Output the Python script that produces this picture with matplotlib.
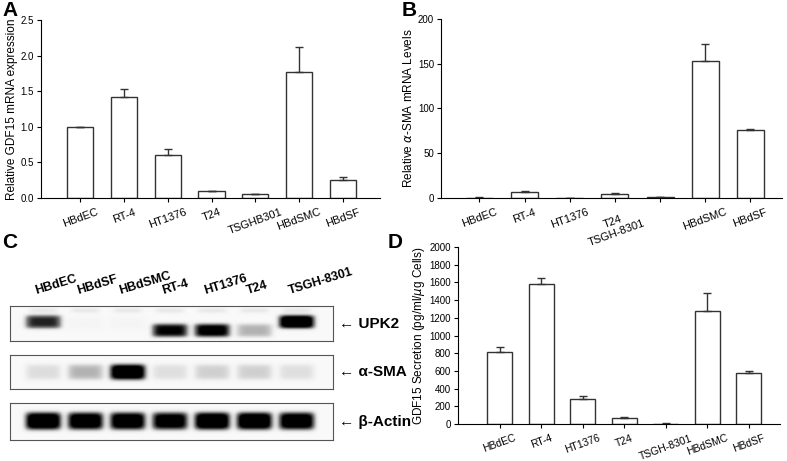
import matplotlib.pyplot as plt
import numpy as np

plt.rcParams['font.family'] = 'Liberation Sans'

# panel A: GDF15 mRNA
a_labels = ['HBdEC', 'RT-4', 'HT1376', 'T24', 'TSGHB301', 'HBdSMC', 'HBdSF']
a_vals = [1.0, 1.42, 0.61, 0.10, 0.05, 1.77, 0.25]
a_err = [0.0, 0.11, 0.08, 0.005, 0.005, 0.35, 0.05]

# panel B: alpha-SMA mRNA
b_labels = ['HBdEC', 'RT-4', 'HT1376', 'T24\nTSGH-8301', '', 'HBdSMC', 'HBdSF']
b_vals = [0.5, 7, 0, 5, 1, 153, 76]
b_err = [0.2, 0.5, 0, 0.8, 0.2, 19, 1.2]

# panel D: GDF15 secretion
d_labels = ['HBdEC', 'RT-4', 'HT1376', 'T24', 'TSGH-8301', 'HBdSMC', 'HBdSF']
d_vals = [815, 1585, 285, 70, 5, 1275, 580]
d_err = [55, 60, 30, 8, 2, 205, 20]

# panel C: western blot lanes and band intensities (0..1)
c_lanes = ['HBdEC', 'HBdSF', 'HBdSMC', 'RT-4', 'HT1376', 'T24', 'TSGH-8301']
upk2 = [0.7, 0.03, 0.03, 0.8, 0.85, 0.3, 1.0]
upk2_pos = [0.55, 0.5, 0.5, 0.3, 0.3, 0.3, 0.55]
sma = [0.15, 0.3, 1.0, 0.14, 0.2, 0.2, 0.14]
actin = [1.0, 0.95, 0.95, 0.9, 1.0, 1.0, 0.95]

W, H = 787, 461
fig = plt.figure(figsize=(W / 100, H / 100), dpi=100)


def px_axes(x0, y0, x1, y1):
    return fig.add_axes([x0 / W, 1 - y1 / H, (x1 - x0) / W, (y1 - y0) / H])


def bar_panel(ax, labels, vals, err, ylim, yticks, ylabel, xlim, fs=7):
    x = np.arange(len(vals))
    ax.bar(x, vals, width=0.6, color='white', edgecolor='#333333', linewidth=1.0)
    ax.errorbar(x, vals, yerr=[np.zeros(len(err)), err], fmt='none',
                ecolor='#333333', elinewidth=1.0, capsize=3)
    ax.set_xlim(*xlim)
    ax.set_ylim(*ylim)
    ax.set_yticks(yticks)
    ax.set_xticks(x)
    ax.set_xticklabels(labels, rotation=20, ha='center', fontsize=8)
    ax.tick_params(axis='y', labelsize=fs, direction='out', length=3, pad=2)
    ax.tick_params(axis='x', direction='out', length=3)
    ax.spines['top'].set_visible(False)
    ax.spines['right'].set_visible(False)
    ax.set_ylabel(ylabel, fontsize=8.5, labelpad=2)


ax = px_axes(41, 20, 380, 198)
bar_panel(ax, a_labels, a_vals, a_err, (0, 2.5), [0, 0.5, 1.0, 1.5, 2.0, 2.5],
          'Relative GDF15 mRNA expression', (-0.9, 6.85))
ax.set_yticklabels(['0.0', '0.5', '1.0', '1.5', '2.0', '2.5'])

ax = px_axes(441, 19, 782, 198)
bar_panel(ax, b_labels, b_vals, b_err, (0, 200), [0, 50, 100, 150, 200],
          r'Relative $\alpha$-SMA mRNA Levels', (-0.85, 6.7))

ax = px_axes(458, 247, 780, 424)
bar_panel(ax, d_labels, d_vals, d_err, (0, 2000), range(0, 2001, 200),
          r'GDF15 Secretion (pg/ml/$\mu$g Cells)', (-1.0, 6.75), fs=7)
ax.set_xticklabels(d_labels, rotation=20, fontsize=7.5)

# western blot strips
boxes = [(306, 341, upk2, upk2_pos, 'UPK2'),
         (355, 389, sma, [0.5] * 7, 'α-SMA'),
         (403, 440, actin, [0.5] * 7, 'β-Actin')]
xx = np.linspace(-0.78, 6.85, 400)
yy = np.linspace(0, 1, 60)
X, Y = np.meshgrid(xx, yy)
for i, (y0, y1, inten, pos, name) in enumerate(boxes):
    ax = px_axes(10, y0, 333, y1)
    img = np.full(X.shape, 0.05)
    wy = 0.2 if name == 'UPK2' else 0.24
    for k in range(len(inten)):
        band = 1.2 * inten[k] * np.exp(-((X - k) / 0.43) ** 6) * np.exp(-((Y - pos[k]) / wy) ** 4)
        img = img + band
        if name == 'UPK2':
            img = img + 0.12 * np.exp(-((X - k) / 0.35) ** 6) * np.exp(-((Y - 0.88) / 0.08) ** 2)
    ax.imshow(np.clip(img, 0, 1), cmap='Greys', vmin=0, vmax=1, aspect='auto',
              extent=(xx[0], xx[-1], 0, 1), origin='lower', interpolation='bilinear')
    ax.set_xticks([])
    ax.set_yticks([])
    for s in ax.spines.values():
        s.set_color('#555555')
    ax.text(1.02, 0.5, '← ' + name, transform=ax.transAxes, fontsize=11,
            fontweight='bold', va='center', ha='left')
    if i == 0:
        for k, lab in enumerate(c_lanes):
            ax.text(k - 0.15, 1.25, lab, fontsize=9, fontweight='bold', rotation=17,
                    ha='left', va='bottom', rotation_mode='anchor')

for lab, x, y in [('A', 2, 1), ('B', 402, 1), ('C', 2, 233), ('D', 388, 233)]:
    fig.text(x / W, 1 - y / H, lab, fontsize=15, fontweight='bold', va='top')

fig.savefig('out.png', dpi=100)
